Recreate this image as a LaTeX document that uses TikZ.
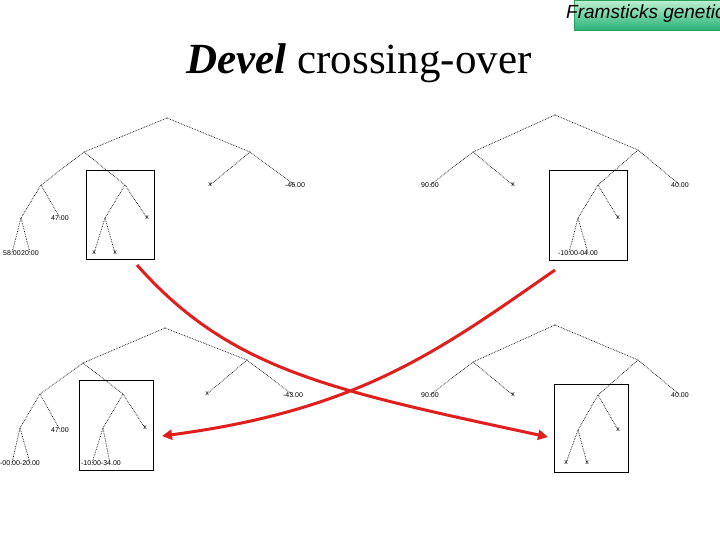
\documentclass[tikz,border=0pt]{standalone}
\usepackage{fontspec}
\setmainfont{Liberation Serif}
\newfontfamily\lsans{Liberation Sans}
\usetikzlibrary{arrows.meta}
\definecolor{gtop}{RGB}{190,240,210}
\definecolor{gbot}{RGB}{40,180,120}
\definecolor{gline}{RGB}{40,160,90}
\definecolor{arrred}{RGB}{225,30,30}
\begin{document}
\begin{tikzpicture}[x=1pt,y=-1pt,
  edge/.style={densely dotted,line width=0.7pt},
  lbl/.style={font=\lsans\fontsize{7}{7}\selectfont,inner sep=0.5pt},
  boxr/.style={draw,line width=0.8pt},
  redarrow/.style={draw=arrred,line width=3pt,-{Triangle[length=10pt,width=10pt]}}]
\useasboundingbox (0,0) rectangle (720,540);
\begin{scope}
\clip (0,0) rectangle (720,540);
\shade[top color=gtop,bottom color=gbot] (574,0) rectangle (720,30);
\draw[gline,line width=0.6pt] (574,0) rectangle (720,30);
\node[anchor=west,inner sep=0,font=\lsans\itshape\fontsize{19}{19}\selectfont] (hdr) at (566,14) {Framsticks genetic};
\end{scope}
\node[font=\fontsize{43}{43}\selectfont] (title) at (359,63) {\textbf{\textit{Devel}} crossing-over};
% ---------- tree A (top-left)
\foreach \n/\x/\y in {r/167/118,a/84/152,b/250/152,c/41/185,d/125/185,e/210/185,f/295/185,g/21/218,h/60/218,i/105/218,j/147/218,k/12/253,l/30/253,m/94/253,n/115/253}
  \coordinate (A\n) at (\x,\y);
\foreach \p/\q in {r/a,r/b,a/c,a/d,b/e,b/f,c/g,c/h,d/i,d/j,g/k,g/l,i/m,i/n}
  \draw[edge] (A\p) -- (A\q);
\node[lbl] (Ae) at (Ae) {x}; \node[lbl] (Af) at (Af) {-46.00}; \node[lbl] (Ah) at (Ah) {47.00};
\node[lbl] (Aj) at (Aj) {x}; \node[lbl] (Ak) at (Ak) {58.00}; \node[lbl] (Al) at (Al) {20.00};
\node[lbl] (Am) at (Am) {x}; \node[lbl] (An) at (An) {x};
\node[boxr,minimum width=68pt,minimum height=89pt] (Abox) at (120,214.5) {};
% ---------- tree B (top-right)
\foreach \n/\x/\y in {r/555/115,a/473/152,b/638/150,c/430/185,d/513/185,e/598/185,f/680/185,g/578/218,h/618/218,k/569/253,l/588/253}
  \coordinate (B\n) at (\x,\y);
\foreach \p/\q in {r/a,r/b,a/c,a/d,b/e,b/f,e/g,e/h,g/k,g/l}
  \draw[edge] (B\p) -- (B\q);
\node[lbl] (Bc) at (Bc) {90.00}; \node[lbl] (Bd) at (Bd) {x}; \node[lbl] (Bf) at (Bf) {40.00};
\node[lbl] (Bh) at (Bh) {x}; \node[lbl] (Bkl) at (578,253) {-10.00-04.00};
\node[boxr,minimum width=78pt,minimum height=90pt] (Bbox) at (588,215) {};
% ---------- tree C (bottom-left)
\foreach \n/\x/\y in {r/165/328,a/83/363,b/247/360,c/40/394,d/123/394,e/207/394,f/293/395,g/20/428,h/60/430,i/103/428,j/145/428,k/12/463,l/30/463,m/92/463,n/110/463}
  \coordinate (C\n) at (\x,\y);
\foreach \p/\q in {r/a,r/b,a/c,a/d,b/e,b/f,c/g,c/h,d/i,d/j,g/k,g/l,i/m,i/n}
  \draw[edge] (C\p) -- (C\q);
\node[lbl] (Ce) at (Ce) {x}; \node[lbl] (Cf) at (Cf) {-43.00}; \node[lbl] (Ch) at (Ch) {47.00};
\node[lbl] (Cj) at (Cj) {x}; \node[lbl] (Ckl) at (20,463) {-00.00-20.00};
\node[lbl] (Cmn) at (101,463) {-10.00-34.00};
\node[boxr,minimum width=74pt,minimum height=90pt] (Cbox) at (116,425) {};
% ---------- tree D (bottom-right)
\foreach \n/\x/\y in {r/555/325,a/473/362,b/638/360,c/430/395,d/513/395,e/598/395,f/680/395,g/578/430,h/618/430,k/566/463,l/587/463}
  \coordinate (D\n) at (\x,\y);
\foreach \p/\q in {r/a,r/b,a/c,a/d,b/e,b/f,e/g,e/h,g/k,g/l}
  \draw[edge] (D\p) -- (D\q);
\node[lbl] (Dc) at (Dc) {90.00}; \node[lbl] (Dd) at (Dd) {x}; \node[lbl] (Df) at (Df) {40.00};
\node[lbl] (Dh) at (Dh) {x}; \node[lbl] (Dk) at (Dk) {x}; \node[lbl] (Dl) at (Dl) {x};
\node[boxr,minimum width=74pt,minimum height=88pt] (Dbox) at (591,428) {};
% ---------- red arrows
\coordinate (s1) at (137,265); \coordinate (t1) at (548,437);
\coordinate (s2) at (555,270); \coordinate (t2) at (162,436);
\draw[redarrow] (s1) .. controls (230,370) and (330,390) .. (t1);
\draw[redarrow] (s2) .. controls (440,350) and (360,410) .. (t2);
\end{tikzpicture}
\end{document}
